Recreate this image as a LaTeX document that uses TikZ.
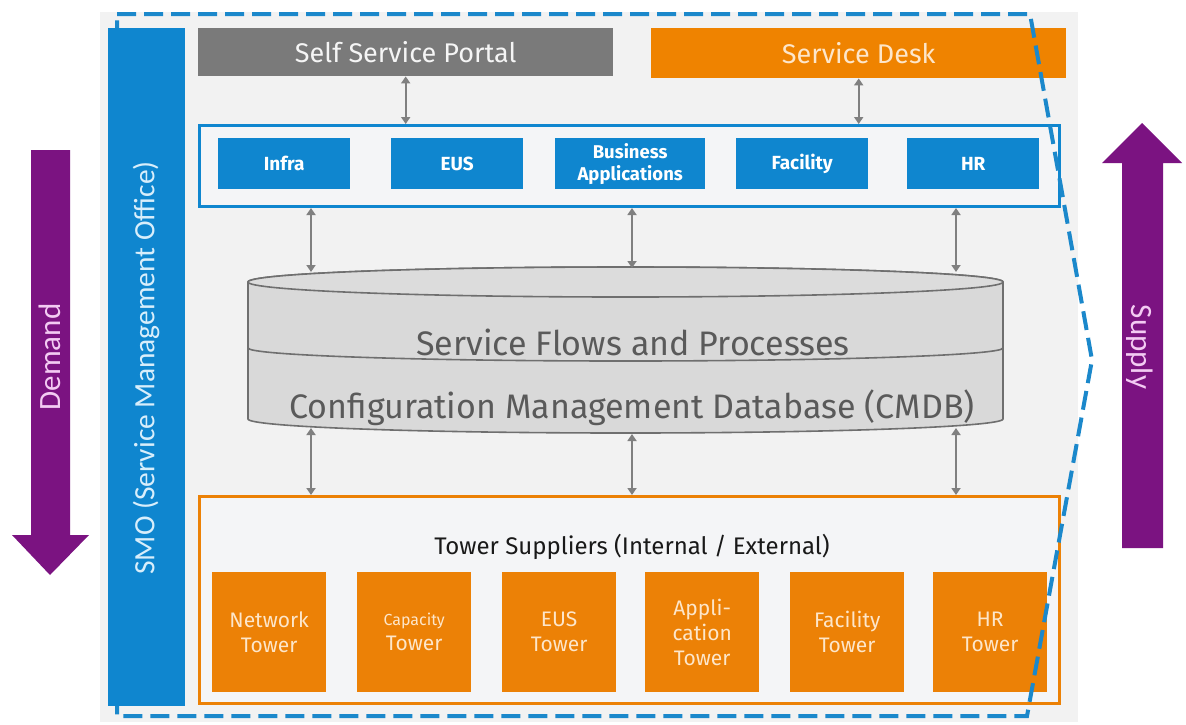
\documentclass[tikz,border=0pt]{standalone}
\usepackage{fontspec}
\setmainfont{Fira Sans}
\newfontfamily\labelfont{Carlito}
\usetikzlibrary{arrows.meta}

\definecolor{smoblue}{HTML}{0F86CF}
\definecolor{dashblue}{HTML}{1B88CB}
\definecolor{portalgray}{HTML}{7A7A7A}
\definecolor{deskorange}{HTML}{EF8300}
\definecolor{towerorange}{HTML}{EC8106}
\definecolor{flowpurple}{HTML}{7B1381}
\definecolor{panelgray}{HTML}{F2F2F2}
\definecolor{innerfill}{HTML}{F4F5F7}
\definecolor{linkgray}{HTML}{808080}
\definecolor{dbfill}{HTML}{D9D9D9}
\definecolor{dbtop}{HTML}{DCDCDC}
\definecolor{dbline}{HTML}{6F6F6F}
\definecolor{dbtext}{HTML}{5A5A5A}
\definecolor{cream}{HTML}{FDE6CA}
\definecolor{pinktext}{HTML}{F3CBF3}
\definecolor{smotext}{HTML}{D8EEFB}

\tikzset{
  box/.style={inner sep=0pt, anchor=north west, align=center},
  headbar/.style={box, minimum height=48pt, minimum width=415pt,
    font=\fontsize{27}{30}\selectfont},
  wrap/.style={box, line width=3pt, fill=innerfill, minimum width=860pt},
  unitbox/.style={box, fill=smoblue, text=white, minimum height=51pt,
    minimum width=132pt, font=\bfseries\fontsize{19}{22}\selectfont},
  towerbox/.style={box, fill=towerorange, text=cream, minimum height=120pt,
    minimum width=114pt, font=\fontsize{21}{25}\selectfont},
  link/.style={draw=linkgray, line width=2pt,
    {Triangle[width=9pt,length=7pt]}-{Triangle[width=9pt,length=7pt]}},
  dbrim/.style={draw=dbline, line width=1.6pt},
  outline/.style={draw=dashblue, line width=4pt, dash pattern=on 19pt off 8pt},
  flowarrow/.style={fill=flowpurple},
  flowtext/.style={text=pinktext, font=\labelfont\fontsize{31}{33}\selectfont},
}

\begin{document}
\begin{tikzpicture}[x=1pt,y=-1pt]
\useasboundingbox (0,0) rectangle (1186,724);

% panel behind the whole structure
\fill[panelgray] (100,12) rectangle (1078,722);

% top entry points
\node[headbar, fill=portalgray, text=white!96!black] (portal) at (198,28) {Self Service Portal};
\node[headbar, fill=deskorange, text=cream, minimum height=50pt] (desk) at (651,28) {Service Desk};

% service domains
\node[wrap, draw=smoblue, minimum height=81pt] (svc) at (198,124) {};
\node[unitbox] (infra) at (218,138) {Infra};
\node[unitbox] (eus) at (391,138) {EUS};
\node[unitbox, minimum width=150pt, font=\bfseries\fontsize{18.5}{22}\selectfont] (bapp) at (555,138) {Business\\Applications};
\node[unitbox] (fac) at (736,138) {Facility};
\node[unitbox] (hr) at (907,138) {HR};

\draw[link] (portal.south) -- (portal.south |- svc.north);
\draw[link] (desk.south) -- (desk.south |- svc.north);

% CMDB cylinder
\node[box, minimum width=755pt, minimum height=166pt] (db) at (248,267) {};
\path[fill=dbfill, dbrim] (248,282) -- (248,419)
  arc[start angle=180, end angle=360, x radius=377.5pt, y radius=14pt]
  -- (1003,282)
  arc[start angle=0, end angle=180, x radius=377.5pt, y radius=15pt] -- cycle;
\path[fill=dbtop, dbrim] (625.5,282) ellipse[x radius=377.5pt, y radius=15pt];
\draw[dbrim] (248,348) arc[start angle=180, end angle=360, x radius=377.5pt, y radius=13pt];
\node[text=dbtext, font=\fontsize{34}{38}\selectfont] (flows) at (633,342) {Service Flows and Processes};
\node[text=dbtext, font=\fontsize{34}{38}\selectfont] (cmdb) at (632,408) {Configuration Management Database (CMDB)};

\coordinate (dbt1) at (311,272);
\coordinate (dbt2) at (632,268);
\coordinate (dbt3) at (956,272);
\coordinate (dbb1) at (311,428);
\coordinate (dbb2) at (632,434);
\coordinate (dbb3) at (956,428);

% tower suppliers
\node[wrap, draw=towerorange, minimum height=207pt] (tow) at (198,495) {};
\node[text=black!90, font=\fontsize{24}{27}\selectfont] (towtitle) at (632,547) {Tower Suppliers (Internal / External)};
\node[towerbox] (t1) at (212,572) {Network\\Tower};
\node[towerbox] (t2) at (357,572) {{\fontsize{16}{18}\selectfont Capacity}\\Tower};
\node[towerbox] (t3) at (502,572) {EUS\\Tower};
\node[towerbox] (t4) at (645,572) {Appli-\\cation\\Tower};
\node[towerbox] (t5) at (790,572) {Facility\\Tower};
\node[towerbox] (t6) at (933,572) {HR\\Tower};

\draw[link] (svc.south -| dbt1) -- (dbt1);
\draw[link] (svc.south -| dbt2) -- (dbt2);
\draw[link] (svc.south -| dbt3) -- (dbt3);
\draw[link] (dbb1) -- (tow.north -| dbb1);
\draw[link] (dbb2) -- (tow.north -| dbb2);
\draw[link] (dbb3) -- (tow.north -| dbb3);

% scope boundary
\draw[outline] (117,14) -- (1030,14) -- (1092,360) -- (1027,716) -- (117,716) -- cycle;

% service management office
\node[box, fill=smoblue, minimum width=77pt, minimum height=678pt] (smo) at (108,28) {};
\coordinate (smomid) at (146,368);
\node[rotate=90, text=smotext, font=\labelfont\fontsize{29.5}{32}\selectfont] (smolabel) at (smomid) {SMO (Service Management Office)};

% demand and supply flows
\path[flowarrow] (31,150) -- (70,150) -- (70,535) -- (89,535) -- (50,575) -- (12,535) -- (31,535) -- cycle;
\node[rotate=90, flowtext] (demand) at (50,357) {Demand};
\path[flowarrow] (1122,548) -- (1163,548) -- (1163,163) -- (1182,163) -- (1142,123) -- (1102,163) -- (1122,163) -- cycle;
\node[rotate=-90, flowtext] (supply) at (1140,347) {Supply};
\end{tikzpicture}
\end{document}
